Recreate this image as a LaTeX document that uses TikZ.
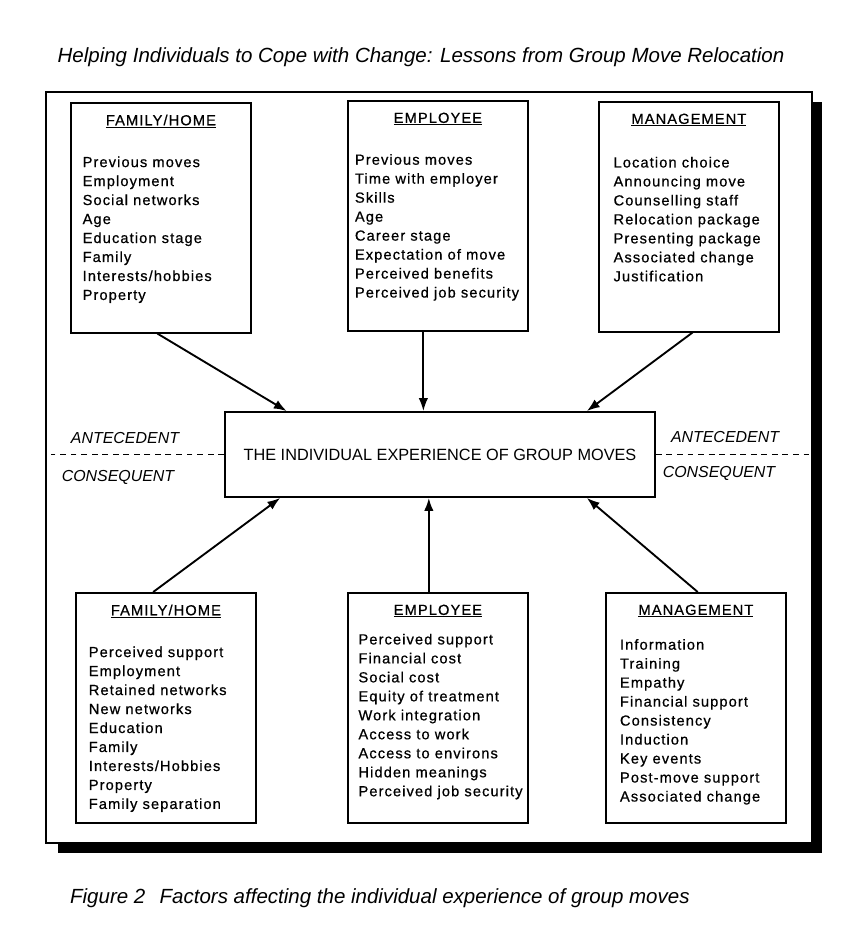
\documentclass[tikz,border=0pt]{standalone}
\usepackage{fontspec}
\setmainfont{Liberation Sans}
\newfontfamily\listfont[LetterSpace=7.5,FakeBold=0.6]{Liberation Sans}
\usepackage{tikz}
\usetikzlibrary{calc,arrows.meta}
\tikzstyle{factor} = [rectangle, draw=black, line width=1.6pt, anchor=north west, inner xsep=0pt, inner ysep=10pt, fill=white]
\tikzstyle{core} = [rectangle, draw=black, line width=1.6pt, minimum width=367pt, minimum height=72.5pt, font=\fontsize{13.9}{16}\selectfont]
\tikzstyle{phase} = [font=\fontsize{13.6}{16}\selectfont\itshape]
\tikzstyle{heading} = [font=\fontsize{17.5}{20}\selectfont\itshape]
\tikzstyle{link} = [-{Latex[length=11pt,width=8pt]}, line width=1.6pt]
\tikzstyle{divider} = [line width=0.6pt, dash pattern=on 5pt off 4pt]
\newcommand{\factorlist}[4]{\parbox[t][176pt][t]{153.6pt}{\listfont\fontsize{12.5}{16.2}\selectfont\centering\underline{#3}\par\vspace{#2}\raggedright\leftskip=#1\relax #4}}

\begin{document}
\begin{tikzpicture}[x=0.03cm, y=-0.03cm]
			\fill[white] (0,0) rectangle (854,940);
			\useasboundingbox (0,0) rectangle (854,940);
			
			\node (title) [heading] at (421,57) {Helping Individuals to Cope with Change: Lessons from Group Move Relocation};
			
			\fill[black] (58,102) rectangle (822,853);
			\draw[line width=1pt, fill=white] (46,92) rectangle (812,843);
			
			\node (famA) [factor] at (70,102) {\factorlist{10pt}{19.5pt}{FAMILY/HOME}{Previous moves\\Employment\\Social networks\\Age\\Education stage\\Family\\Interests/hobbies\\Property}};
			\node (empA) [factor] at (347,100) {\factorlist{6pt}{19.5pt}{EMPLOYEE}{Previous moves\\Time with employer\\Skills\\Age\\Career stage\\Expectation of move\\Perceived benefits\\Perceived job security}};
			\node (mgtA) [factor] at (598,101) {\factorlist{12.5pt}{21pt}{MANAGEMENT}{Location choice\\Announcing move\\Counselling staff\\Relocation package\\Presenting package\\Associated change\\Justification}};
			
			\node (core) [core] at (440,454.5) {THE INDIVIDUAL EXPERIENCE OF GROUP MOVES};
			
			\node (antL) [phase] at (125,438) {ANTECEDENT};
			\node (conL) [phase] at (118,477) {CONSEQUENT};
			\node (antR) [phase] at (725,437) {ANTECEDENT};
			\node (conR) [phase] at (719,473) {CONSEQUENT};
			\draw[divider] (core.west) -- +(-173,0);
			\draw[divider] (core.east) -- +(155,0);
			
			\node (famB) [factor] at (75,592) {\factorlist{11pt}{19.5pt}{FAMILY/HOME}{Perceived support\\Employment\\Retained networks\\New networks\\Education\\Family\\Interests/Hobbies\\Property\\Family separation}};
			\node (empB) [factor] at (347,592) {\factorlist{9pt}{9pt}{EMPLOYEE}{Perceived support\\Financial cost\\Social cost\\Equity of treatment\\Work integration\\Access to work\\Access to environs\\Hidden meanings\\Perceived job security}};
			\node (mgtB) [factor] at (605,592) {\factorlist{12pt}{13.5pt}{MANAGEMENT}{Information\\Training\\Empathy\\Financial support\\Consistency\\Induction\\Key events\\Post-move support\\Associated change}};
			
			\draw[link] ($(famA.south west)!.48!(famA.south east)$) -- ($(core.north west)!.145!(core.north east)$);
			\draw[link] ($(empA.south west)!.42!(empA.south east)$) coordinate (e1) -- (e1 |- core.north);
			\draw[link] ($(mgtA.south west)!.52!(mgtA.south east)$) -- ($(core.north west)!.84!(core.north east)$);
			\draw[link] ($(famB.north west)!.43!(famB.north east)$) -- ($(core.south west)!.13!(core.south east)$);
			\draw[link] ($(empB.north west)!.45!(empB.north east)$) coordinate (e2) -- (e2 |- core.south);
			\draw[link] ($(mgtB.north west)!.51!(mgtB.north east)$) -- ($(core.south west)!.84!(core.south east)$);
			
			\node (caption) [heading, anchor=west] at (66,898) {Figure 2\hspace{0.7em}Factors affecting the individual experience of group moves};
			
			\end{tikzpicture}
\end{document}
